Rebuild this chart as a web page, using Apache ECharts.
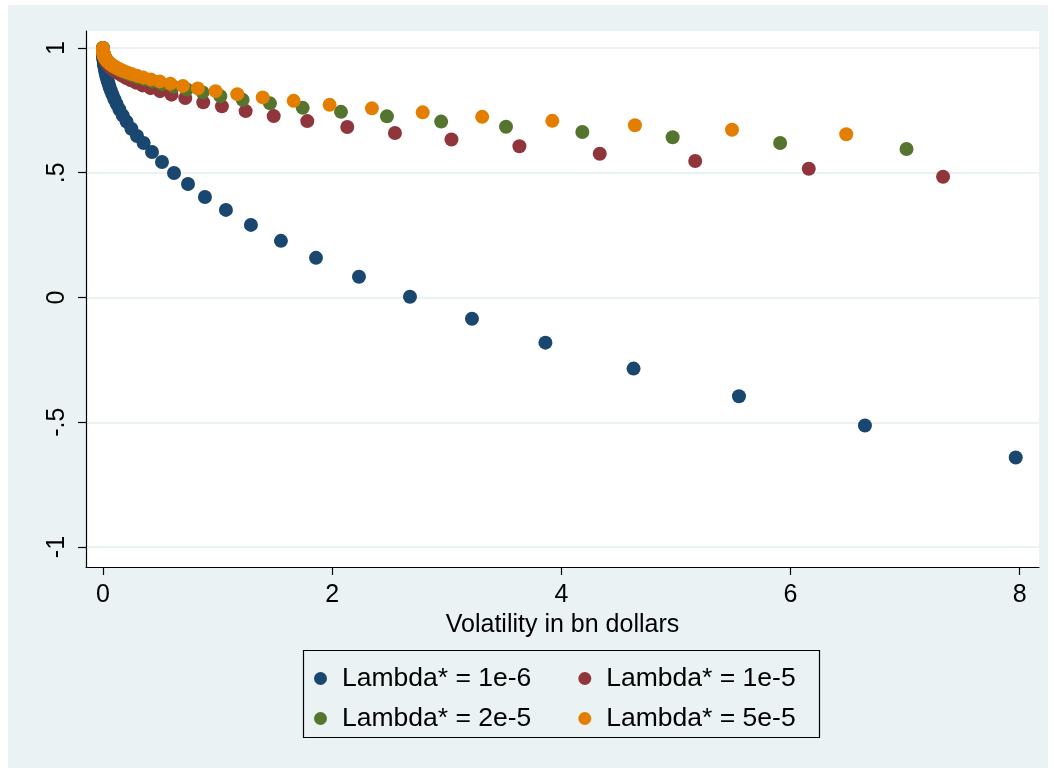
<!DOCTYPE html>
<html>
<head>
<meta charset="utf-8">
<script src="https://cdn.jsdelivr.net/npm/echarts@6/dist/echarts.min.js"></script>
<style>
html,body{margin:0;padding:0;background:#ffffff;}
#chart{width:1054px;height:771px;}
</style>
</head>
<body>
<div id="chart"></div>
<script>
// ---- data ----
const seriesNames = ['Lambda* = 1e-6', 'Lambda* = 1e-5', 'Lambda* = 2e-5', 'Lambda* = 5e-5'];

const x1e6 = [0, 0.001, 0.002, 0.003, 0.004, 0.005, 0.006, 0.0075, 0.009, 0.011, 0.013, 0.016, 0.019, 0.023, 0.028, 0.033, 0.040, 0.048, 0.0576, 0.069, 0.083, 0.0995, 0.119, 0.143, 0.172, 0.206, 0.248, 0.297, 0.355, 0.428, 0.515, 0.620, 0.742, 0.890, 1.073, 1.291, 1.553, 1.859, 2.234, 2.679, 3.220, 3.861, 4.630, 5.550, 6.649, 7.965];
const y1e6 = [1.0, 0.979, 0.971, 0.964, 0.959, 0.954, 0.950, 0.944, 0.938, 0.932, 0.926, 0.918, 0.910, 0.901, 0.891, 0.882, 0.870, 0.858, 0.844, 0.829, 0.813, 0.795, 0.776, 0.754, 0.730, 0.705, 0.676, 0.647, 0.619, 0.583, 0.543, 0.499, 0.455, 0.403, 0.351, 0.291, 0.227, 0.159, 0.083, 0.003, -0.085, -0.181, -0.285, -0.396, -0.513, -0.641];

const x1e5 = [0, 0.0015, 0.003, 0.005, 0.0075, 0.009, 0.0108, 0.013, 0.0156, 0.0187, 0.0225, 0.027, 0.032, 0.039, 0.0465, 0.056, 0.067, 0.080, 0.0965, 0.116, 0.139, 0.167, 0.200, 0.240, 0.288, 0.346, 0.415, 0.498, 0.598, 0.718, 0.875, 1.038, 1.245, 1.490, 1.783, 2.132, 2.548, 3.041, 3.634, 4.335, 5.168, 6.159, 7.331];
const y1e5 = [1.0, 0.984, 0.978, 0.973, 0.968, 0.966, 0.963, 0.960, 0.957, 0.954, 0.951, 0.947, 0.943, 0.938, 0.934, 0.928, 0.923, 0.917, 0.911, 0.904, 0.897, 0.889, 0.880, 0.871, 0.861, 0.850, 0.839, 0.827, 0.813, 0.799, 0.782, 0.766, 0.747, 0.727, 0.707, 0.683, 0.659, 0.633, 0.606, 0.576, 0.547, 0.516, 0.484];

const x2e5 = [0, 0.002, 0.004, 0.006, 0.0075, 0.009, 0.011, 0.013, 0.016, 0.019, 0.022, 0.027, 0.032, 0.038, 0.045, 0.054, 0.064, 0.076, 0.091, 0.108, 0.128, 0.153, 0.182, 0.216, 0.257, 0.306, 0.364, 0.434, 0.516, 0.614, 0.731, 0.870, 1.024, 1.219, 1.457, 1.743, 2.077, 2.478, 2.951, 3.517, 4.183, 4.971, 5.909, 7.012];
const y2e5 = [1.0, 0.984, 0.979, 0.975, 0.973, 0.971, 0.968, 0.966, 0.963, 0.961, 0.958, 0.955, 0.952, 0.948, 0.945, 0.940, 0.936, 0.932, 0.927, 0.922, 0.916, 0.910, 0.904, 0.897, 0.890, 0.882, 0.874, 0.865, 0.855, 0.845, 0.834, 0.822, 0.807, 0.792, 0.778, 0.760, 0.744, 0.726, 0.705, 0.684, 0.663, 0.642, 0.619, 0.595];

const x5e5 = [0, 0.001, 0.003, 0.005, 0.007, 0.009, 0.011, 0.013, 0.016, 0.019, 0.022, 0.027, 0.032, 0.038, 0.045, 0.053, 0.063, 0.075, 0.089, 0.106, 0.126, 0.149, 0.177, 0.210, 0.249, 0.296, 0.351, 0.417, 0.495, 0.588, 0.698, 0.828, 0.983, 1.172, 1.394, 1.664, 1.978, 2.347, 2.790, 3.309, 3.921, 4.642, 5.489, 6.486];
const y5e5 = [1.0, 0.986, 0.980, 0.976, 0.972, 0.970, 0.967, 0.965, 0.962, 0.960, 0.957, 0.954, 0.951, 0.948, 0.944, 0.941, 0.937, 0.933, 0.928, 0.924, 0.919, 0.914, 0.908, 0.902, 0.896, 0.889, 0.882, 0.874, 0.866, 0.857, 0.848, 0.838, 0.827, 0.815, 0.802, 0.788, 0.772, 0.758, 0.742, 0.724, 0.708, 0.690, 0.672, 0.654];

const xTicks = [0, 2, 4, 6, 8];
const xTickLabels = ['0', '2', '4', '6', '8'];
const yTicks = [-1, -0.5, 0, 0.5, 1];
const yTickLabels = ['-1', '-.5', '0', '.5', '1'];
const xTitle = 'Volatility in bn dollars';

// ---- styling ----
const colors = ['#1a476f', '#90353b', '#55752f', '#e37e00'];
const FONT = "'Liberation Sans', Arial, Helvetica, sans-serif";

function pairs(xs, ys) { return xs.map((v, i) => [v, ys[i]]); }
const allData = [pairs(x1e6, y1e6), pairs(x1e5, y1e5), pairs(x2e5, y2e5), pairs(x5e5, y5e5)];

const chart = echarts.init(document.getElementById('chart'), null, { renderer: 'canvas' });

const legendText = { fontSize: 26.5, color: '#000', fontFamily: FONT, padding: [0, 0, 0, 10] };

const option = {
  animation: false,
  backgroundColor: '#ffffff',
  textStyle: { fontFamily: FONT },
  graphic: [
    { type: 'rect', z: -10, silent: true, shape: { x: 8, y: 5, width: 1040, height: 763 }, style: { fill: '#eaf2f3' } },
    { type: 'rect', z: 10, silent: true, shape: { x: 303.5, y: 650.5, width: 516, height: 87 }, style: { fill: 'none', stroke: '#000', lineWidth: 1.2 } }
  ],
  grid: {
    left: 86, top: 31, width: 953, height: 536,
    show: true, backgroundColor: '#ffffff', borderWidth: 0, containLabel: false
  },
  xAxis: {
    type: 'value',
    min: -0.148, max: 8.168,
    axisLine: { show: true, onZero: false, lineStyle: { color: '#000', width: 1.2 } },
    axisTick: { show: true, length: 8, lineStyle: { color: '#000', width: 1.2 }, customValues: xTicks },
    axisLabel: {
      customValues: xTicks, margin: 16,
      fontSize: 25, color: '#000', fontFamily: FONT,
      formatter: v => xTickLabels[xTicks.indexOf(v)] ?? ''
    },
    splitLine: { show: false },
    name: xTitle, nameLocation: 'middle', nameGap: 46,
    nameTextStyle: { fontSize: 25, color: '#000', fontFamily: FONT }
  },
  yAxis: {
    type: 'value',
    min: -1.080, max: 1.068,
    axisLine: { show: true, onZero: false, lineStyle: { color: '#000', width: 1.2 } },
    axisTick: { show: true, length: 8, lineStyle: { color: '#000', width: 1.2 }, customValues: yTicks },
    axisLabel: {
      customValues: yTicks, margin: 16, rotate: 90,
      fontSize: 25, color: '#000', fontFamily: FONT,
      formatter: v => yTickLabels[yTicks.indexOf(v)] ?? ''
    },
    splitLine: { show: true, lineStyle: { color: '#eaf2f3', width: 2 } }
  },
  legend: [
    {
      data: [seriesNames[0], seriesNames[1]],
      left: 314, top: 665, padding: 0,
      orient: 'horizontal', itemGap: 47,
      icon: 'circle', itemWidth: 13, itemHeight: 13,
      textStyle: legendText
    },
    {
      data: [seriesNames[2], seriesNames[3]],
      left: 314, top: 705, padding: 0,
      orient: 'horizontal', itemGap: 47,
      icon: 'circle', itemWidth: 13, itemHeight: 13,
      textStyle: legendText
    }
  ],
  series: seriesNames.map((n, i) => ({
    name: n,
    type: 'scatter',
    data: allData[i],
    symbol: 'circle',
    symbolSize: 14,
    itemStyle: { color: colors[i], opacity: 1 },
    z: 2 + i
  }))
};

chart.setOption(option);
</script>
</body>
</html>
